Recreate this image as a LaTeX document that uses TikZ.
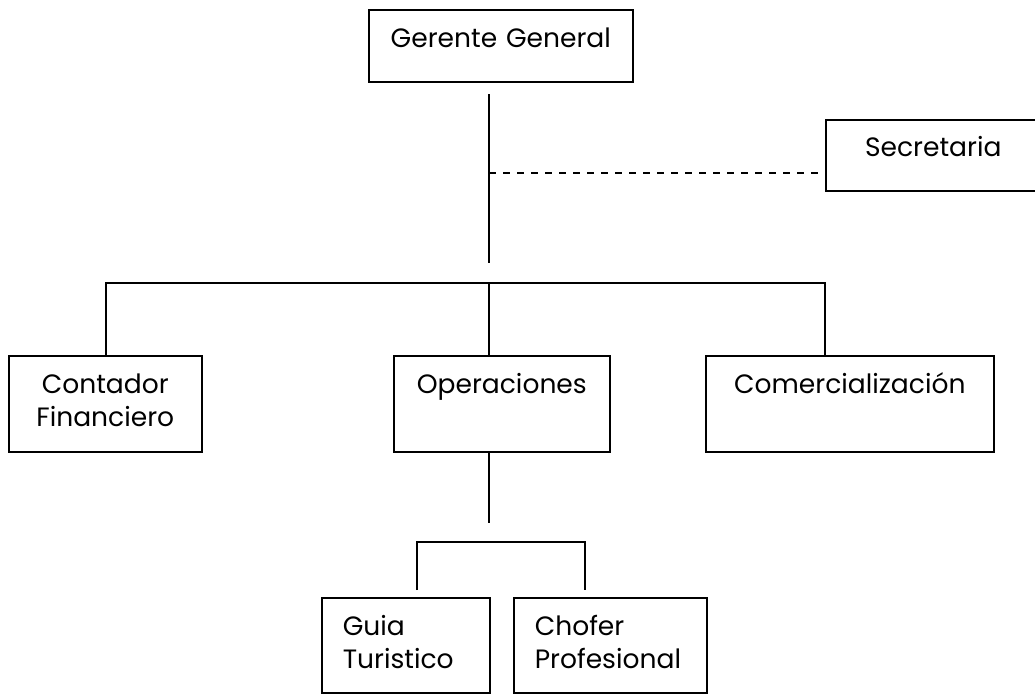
\documentclass[tikz,border=0pt]{standalone}
\usepackage{fontspec}
\setmainfont{Poppins}
\usepackage{tikz}
\usetikzlibrary{positioning, calc}
\hyphenpenalty=10000
\exhyphenpenalty=10000

\begin{document}
\begin{tikzpicture}[x=0.75pt, y=-0.75pt,
    orgbox/.style={draw, line width=1.2pt, anchor=north west, inner sep=0pt,
        font=\fontsize{19.9}{24.75}\selectfont, align=center},
    leftbox/.style={orgbox, inner xsep=15.75pt, align=left},
    link/.style={line width=0.9pt},
    dashlink/.style={line width=0.9pt, dash pattern=on 5.25pt off 5.25pt}]
    \useasboundingbox (0,0) rectangle (1035,693);

    \node[orgbox, text width=198pt, text height=28.5pt, text depth=25.5pt] (gerente) at (368,9) {Gerente General};
    \node[orgbox, text width=161.25pt, text height=27.75pt, text depth=25.5pt] (secretaria) at (825,119) {Secretaria};

    \node[orgbox, text width=144.75pt, text height=28.5pt, text depth=43.5pt] (contador) at (8,355) {Contador\\Financiero};
    \node[orgbox, text width=162pt, text height=28.5pt, text depth=43.5pt] (operaciones) at (393,355) {Operaciones};
    \node[orgbox, text width=216pt, text height=28.5pt, text depth=43.5pt] (comercial) at (705,355) {Comercialización};

    \node[leftbox, text width=94.5pt, text height=28.5pt, text depth=42.75pt] (guia) at (321,597) {Guia\\Turistico};
    \node[leftbox, text width=113.25pt, text height=28.5pt, text depth=42.75pt] (chofer) at (513,597) {Chofer\\Profesional};

    \coordinate (stemtop) at (489,94);
    \coordinate (stemend) at (489,263);
    \coordinate (dashstart) at (489,173);
    \coordinate (busl) at (106,283);
    \coordinate (busm) at (489,283);
    \coordinate (busr) at (825,283);
    \coordinate (opsend) at (489,523);
    \coordinate (subl) at (417,542);
    \coordinate (subr) at (585,542);

    \draw[link] (stemtop) -- (stemend);
    \draw[dashlink, shorten >=5pt] (dashstart) -- (dashstart -| secretaria.west);
    \draw[link] (busl |- contador.north) -- (busl) -- (busr) -- (busr |- comercial.north);
    \draw[link] (busm) -- (busm |- operaciones.north);
    \draw[link] (busm |- operaciones.south) -- (opsend);
    \draw[link, shorten >=5pt] (subl |- guia.north) ++(0,-7) -- (subl) -- (subr) -- (subr |- chofer.north);
\end{tikzpicture}
\end{document}
